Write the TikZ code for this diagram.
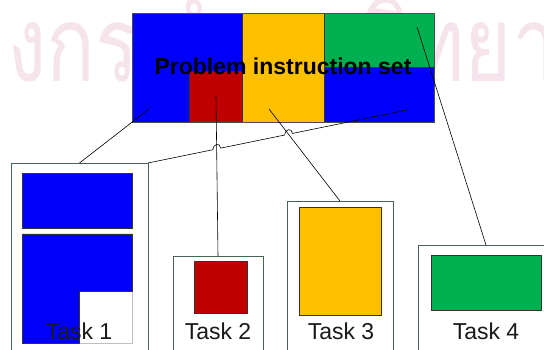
\documentclass[tikz,border=0pt]{standalone}
\usepackage{fontspec}
\setmainfont{Liberation Sans}
\newfontfamily\thaifont[Script=Thai]{Loma}
\usetikzlibrary{calc,intersections}

\definecolor{blockblue}{RGB}{0,0,250}
\definecolor{blockred}{RGB}{192,0,0}
\definecolor{blockyellow}{RGB}{255,192,0}
\definecolor{blockgreen}{RGB}{0,176,80}
\definecolor{taskframe}{RGB}{70,100,80}
\definecolor{wmark}{RGB}{246,228,236}

\begin{document}
\begin{tikzpicture}[x=1pt,y=-1pt,
  region/.style={draw=black!80, line width=0.6pt, anchor=north west,
                 inner sep=0pt, outer sep=0pt},
  taskbox/.style={draw=taskframe, line width=0.8pt, fill=white,
                  anchor=north west, inner sep=0pt, outer sep=0pt,
                  minimum height=200pt},
  link/.style={draw=black, line width=0.6pt},
  tasklabel/.style={font=\fontsize{23}{23}\selectfont, anchor=base,
                    inner sep=0pt, text=black!90},
  watermark/.style={font=\thaifont\fontsize{105}{105}\selectfont,
                    text=wmark, inner sep=0pt}
]
\useasboundingbox (0,0) rectangle (544,350);
\clip (0,0) rectangle (544,350);

% faint university watermark, condensed horizontally, behind everything
\node[watermark, anchor=base east] (wmA) at (7,82) {\scalebox{0.77}[1]{จุฬาล}};
\node[watermark, anchor=base west] (wmB) at (7,82) {\scalebox{0.77}[1]{งกรณ์มหาวิทยาลัย}};

% the instruction set block
\node[region, fill=blockblue, minimum width=110pt, minimum height=109pt] (pb1) at (132,13) {};
\node[region, fill=blockyellow, minimum width=82pt, minimum height=109pt] (py) at (242,13) {};
\node[region, fill=blockgreen, minimum width=110pt, minimum height=54pt] (pg) at (324,13) {};
\node[region, fill=blockblue, minimum width=110pt, minimum height=55pt] (pb2) at (324,67) {};
\node[region, fill=blockred, minimum width=53pt, minimum height=51pt] (pr) at (189,71) {};
\draw[draw=black!70, line width=0.6pt] (pb1.north west) rectangle (pb2.south east);

\node[font=\bfseries\fontsize{23}{23}\selectfont, anchor=base, inner sep=0pt] (title) at (283,75) {Problem instruction set};

% task frames
\node[taskbox, minimum width=137pt] (t1) at (11,163) {};
\node[taskbox, minimum width=90pt] (t2) at (173,256) {};
\node[taskbox, minimum width=106pt] (t3) at (287,201) {};
\node[taskbox, minimum width=136pt] (t4) at (418,245) {};

% task contents
\node[region, fill=blockblue, minimum width=110pt, minimum height=55pt] (b1) at (22,173) {};
\draw[fill=white, draw=black!25, line width=0.6pt] (79,291) rectangle (132,343);
\draw[fill=blockblue, draw=black!80, line width=0.6pt]
  (22,234) -- (132,234) -- (132,291) -- (79,291) -- (79,343) -- (22,343) -- cycle;
\node[region, fill=blockred, minimum width=53pt, minimum height=52pt] (r2) at (194,261) {};
\node[region, fill=blockyellow, minimum width=82pt, minimum height=108pt] (y3) at (299,207) {};
\node[region, fill=blockgreen, minimum width=110pt, minimum height=55pt] (g4) at (431,255) {};

\node[tasklabel] (lab1) at (79,339) {Task 1};
\node[tasklabel] (lab2) at (218,339) {Task 2};
\node[tasklabel] (lab3) at (341,339) {Task 3};
\node[tasklabel] (lab4) at (486,339) {Task 4};

% connectors
\coordinate (s1) at (149,109);
\coordinate (s2) at (216,96);
\coordinate (s3) at (269,109);
\coordinate (s4) at (407,110);
\coordinate (s5) at (417,27);

\draw[link] (s1) -- (t1.north);
\draw[link, name path=l2] (s2) -- (t2.north);
\draw[link, name path=l3] (s3) -- (t3.north);
\draw[link] (s5) -- (t4.north);
\path[name path=l4] (s4) -- (t1.north east);
\path[name intersections={of=l4 and l3, by=x3}];
\path[name intersections={of=l4 and l2, by=x2}];
\draw[link] (s4) -- ($(x3)!4pt!(s4)$)
  .. controls +(0,-6) and +(0,-6) .. ($(x3)!4pt!(t1.north east)$)
  -- ($(x2)!4pt!(s4)$)
  .. controls +(0,-6) and +(0,-6) .. ($(x2)!4pt!(t1.north east)$)
  -- (t1.north east);
\end{tikzpicture}
\end{document}
